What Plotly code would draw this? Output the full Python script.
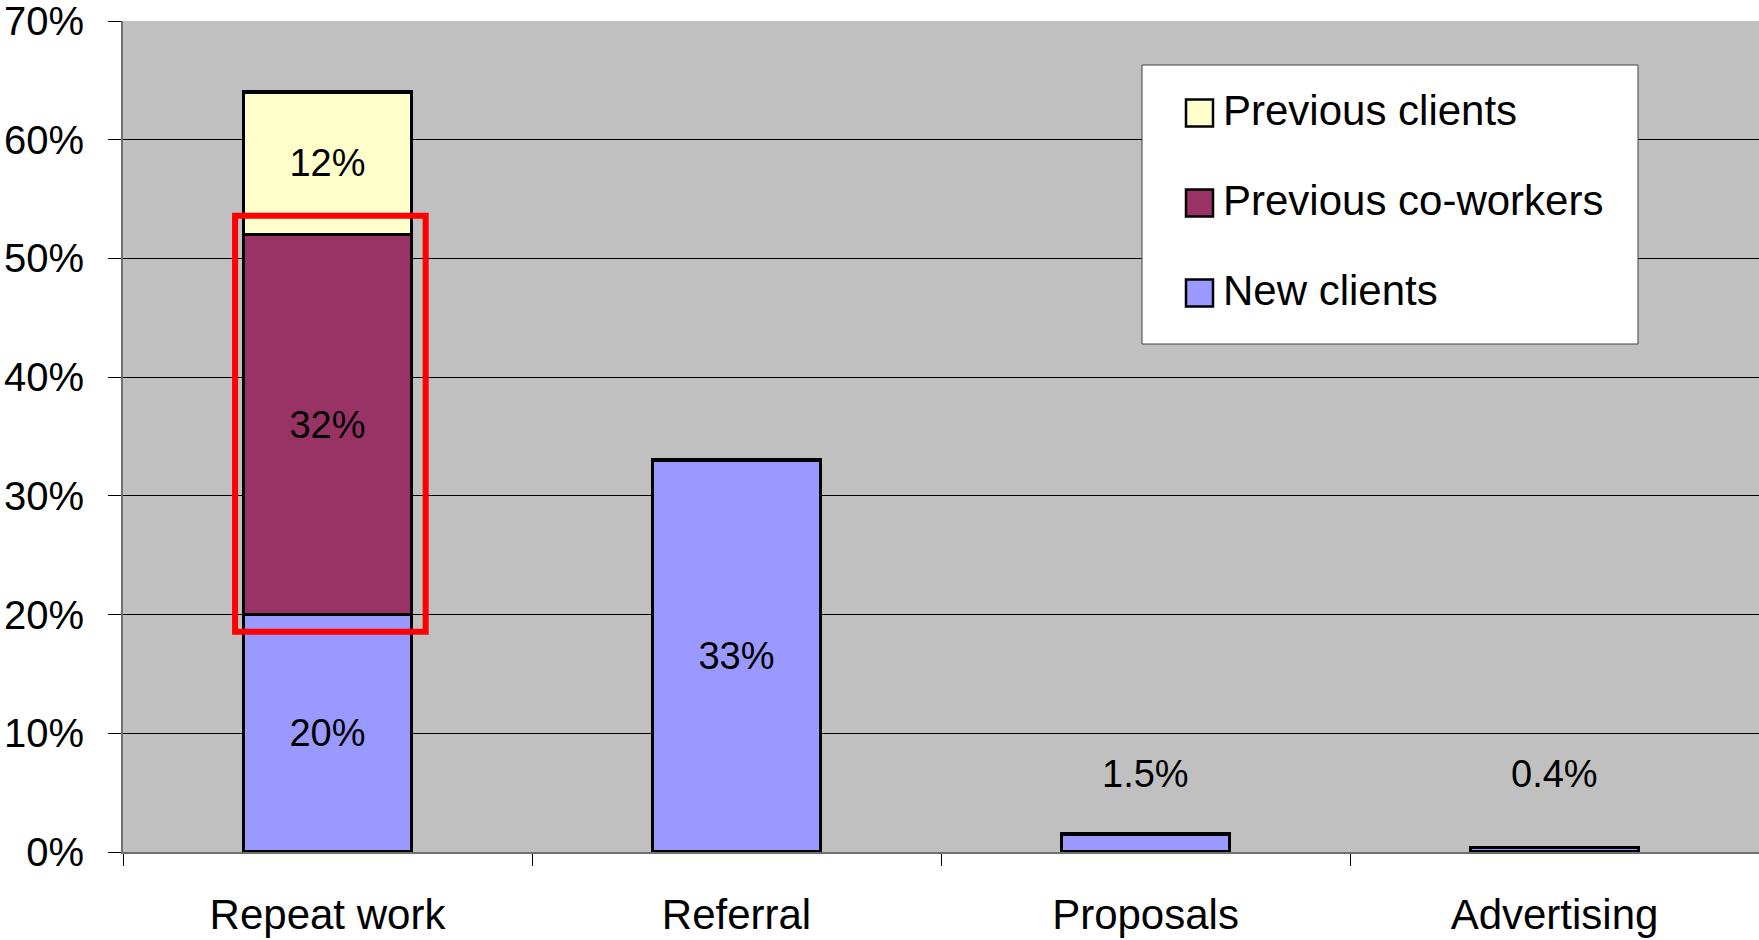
import plotly.graph_objects as go

# ---- data -------------------------------------------------------------
categories = ["Repeat work", "Referral", "Proposals", "Advertising"]
new_clients = [20, 33, 1.5, 0.4]          # every category
prev_coworkers = [32]                      # Repeat work only
prev_clients = [12]                        # Repeat work only
repeat_cat = ["Repeat work"]
series_names = ["New clients", "Previous co-workers", "Previous clients"]
series_colors = ["#9999FF", "#993366", "#FFFFCC"]
y_tick_vals = [0, 10, 20, 30, 40, 50, 60, 70]
y_tick_text = ["0%", "10%", "20%", "30%", "40%", "50%", "60%", "70%"]

# ---- page geometry ----------------------------------------------------
W, H = 1759, 940
ML, MR, MT, MB = 123, 0, 21, 88
PW, PH = W - ML - MR, H - MT - MB
FONT = "Liberation Sans, Arial, sans-serif"


def paper_x(px):
    return (px - ML) / PW


def paper_y(py):
    return (H - MB - py) / PH


def fmt_pct(v):
    return f"{v:g}%"


bar_line = dict(color="#000000", width=3.5)
inside_font = dict(family=FONT, size=38, color="#000000")
big_enough = 5  # segments smaller than this get their label above the bar

fig = go.Figure()
fig.add_trace(go.Bar(
    x=categories, y=new_clients, name=series_names[0],
    marker=dict(color=series_colors[0], line=bar_line),
    text=[fmt_pct(v) if v >= big_enough else "" for v in new_clients],
    textposition="inside", insidetextanchor="middle",
    textfont=inside_font, constraintext="none",
))
fig.add_trace(go.Bar(
    x=repeat_cat, y=prev_coworkers, name=series_names[1],
    marker=dict(color=series_colors[1], line=bar_line),
    text=[fmt_pct(v) for v in prev_coworkers],
    textposition="inside", insidetextanchor="middle",
    textfont=inside_font, constraintext="none",
))
fig.add_trace(go.Bar(
    x=repeat_cat, y=prev_clients, name=series_names[2],
    marker=dict(color=series_colors[2], line=bar_line),
    text=[fmt_pct(v) for v in prev_clients],
    textposition="inside", insidetextanchor="middle",
    textfont=inside_font, constraintext="none",
))

# labels for the very short bars sit at a common level above them
small_label_level = 6.6
annotations = []
for cat, v in zip(categories, new_clients):
    if v < big_enough:
        annotations.append(dict(
            x=cat, y=small_label_level, xref="x", yref="y",
            text=fmt_pct(v), showarrow=False,
            font=inside_font, xanchor="center", yanchor="middle",
        ))

shapes = []

# red highlight around the co-workers segment
pad_lo, pad_hi = 1.45, 1.6
cw_base = new_clients[0]
shapes.append(dict(
    type="rect", xref="x", yref="y", layer="above",
    x0=-0.226, x1=0.24,
    y0=cw_base - pad_lo, y1=cw_base + prev_coworkers[0] + pad_hi,
    line=dict(color="#FF0000", width=6), fillcolor="rgba(0,0,0,0)",
))

# legend box
shapes.append(dict(
    type="rect", xref="paper", yref="paper", layer="above",
    x0=paper_x(1142), x1=paper_x(1638), y0=paper_y(344), y1=paper_y(65),
    line=dict(color="#404040", width=1), fillcolor="#FFFFFF",
))
legend_rows_y = [113, 203, 293]
sw = 27
for row_y, name, color in zip(legend_rows_y, series_names[::-1], series_colors[::-1]):
    shapes.append(dict(
        type="rect", xref="paper", yref="paper", layer="above",
        x0=paper_x(1186), x1=paper_x(1186 + sw),
        y0=paper_y(row_y + sw / 2), y1=paper_y(row_y - sw / 2),
        line=dict(color="#000000", width=2.5), fillcolor=color,
    ))
    annotations.append(dict(
        x=paper_x(1221), y=paper_y(row_y - 3), xref="paper", yref="paper",
        text=name, showarrow=False, xanchor="left", yanchor="middle",
        font=dict(family=FONT, size=42, color="#000000"),
    ))

fig.update_layout(
    width=W, height=H,
    margin=dict(l=ML, r=MR, t=MT, b=MB, pad=0),
    barmode="stack", bargap=0.59,
    plot_bgcolor="#C0C0C0", paper_bgcolor="#FFFFFF",
    showlegend=False,
    font=dict(family=FONT, color="#000000"),
    shapes=shapes, annotations=annotations,
    xaxis=dict(
        type="category", categoryorder="array", categoryarray=categories,
        tickson="boundaries", ticks="outside", ticklen=12, tickwidth=1,
        tickcolor="#000000", showline=True, linecolor="#707070", linewidth=2,
        showgrid=False, tickfont=dict(family=FONT, size=42, color="#000000"),
        ticklabelstandoff=25, automargin=False,
    ),
    yaxis=dict(
        range=[0, 70], tickvals=y_tick_vals, ticktext=y_tick_text,
        ticks="outside", ticklen=13, tickwidth=1, tickcolor="#000000",
        showline=True, linecolor="#707070", linewidth=2,
        showgrid=True, gridcolor="#000000", gridwidth=1, zeroline=False,
        tickfont=dict(family=FONT, size=40, color="#000000"),
        ticklabelstandoff=16, automargin=False, ticklabeloverflow="allow",
    ),
)

fig.write_html("out.html")
